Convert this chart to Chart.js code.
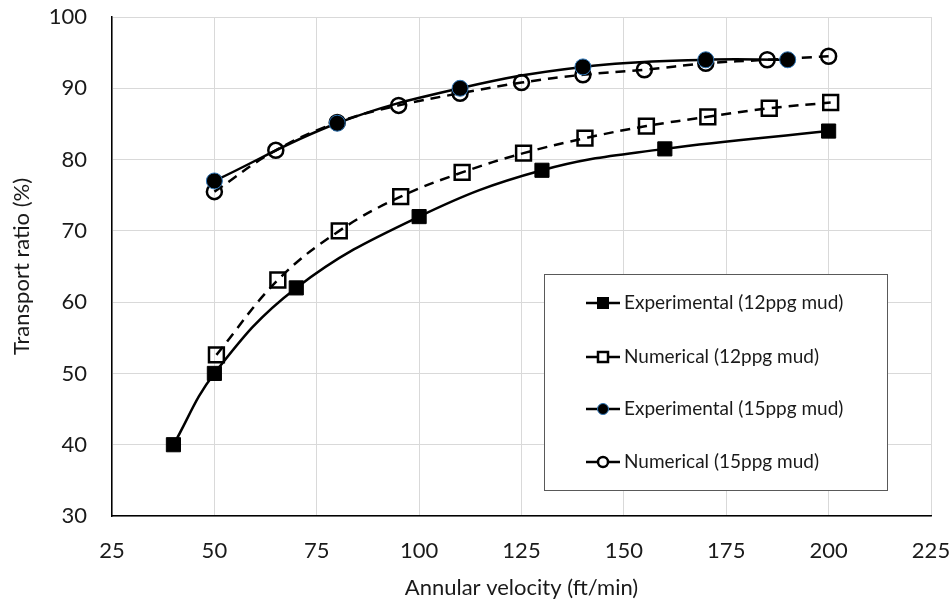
<!DOCTYPE html>
<html>
<head>
<meta charset="utf-8">
<script src="https://cdn.jsdelivr.net/npm/chart.js"></script>
<style>
  body { margin: 0; background: #fff; }
  #wrap { width: 952px; height: 605px; }
</style>
</head>
<body>
<div id="wrap"><canvas id="chart" width="952" height="605"></canvas></div>
<script>
// values
const seriesNames = [
  "Experimental (12ppg mud)",
  "Numerical (12ppg mud)",
  "Experimental (15ppg mud)",
  "Numerical (15ppg mud)"
];
const exp12X = [40, 50, 70, 100, 130, 160, 200];
const exp12Y = [40, 50, 62, 72, 78.5, 81.5, 84];
const num12X = [50.5, 65.5, 80.5, 95.5, 110.5, 125.5, 140.5, 155.5, 170.5, 185.5, 200.5];
const num12Y = [52.6, 63.1, 70.0, 74.8, 78.2, 80.9, 83.0, 84.7, 86.0, 87.2, 88.0];
const exp15X = [50, 80, 110, 140, 170, 190];
const exp15Y = [77, 85.1, 90, 93, 94, 94];
const num15X = [50, 65, 80, 95, 110, 125, 140, 155, 170, 185, 200];
const num15Y = [75.5, 81.3, 85.2, 87.6, 89.3, 90.8, 91.9, 92.6, 93.5, 94.0, 94.5];

const xMin = 25, xMax = 225, xStep = 25;
const yMin = 30, yMax = 100, yStep = 10;

const FONT = "Lato, 'Open Sans', sans-serif";
const TEXT = "#1a1a1a";

function pts(xs, ys) {
  return xs.map((x, i) => ({ x: x, y: ys[i] }));
}

const datasets = [
  {
    label: seriesNames[0],
    data: pts(exp12X, exp12Y),
    borderColor: "#000",
    borderWidth: 2.5,
    pointStyle: "rect",
    pointRadius: 10,
    pointBackgroundColor: "#000",
    pointBorderColor: "#000",
    pointBorderWidth: 1,
    order: 4
  },
  {
    label: seriesNames[1],
    data: pts(num12X, num12Y),
    borderColor: "#000",
    borderWidth: 2.5,
    borderDash: [10, 7],
    pointStyle: "rect",
    pointRadius: 10.5,
    pointBackgroundColor: "rgba(0,0,0,0)",
    pointBorderColor: "#000",
    pointBorderWidth: 2.5,
    order: 3
  },
  {
    label: seriesNames[2],
    data: pts(exp15X, exp15Y),
    borderColor: "#000",
    borderWidth: 2.5,
    pointStyle: "circle",
    pointRadius: 8,
    pointBackgroundColor: "#000",
    pointBorderColor: "#2E75B6",
    pointBorderWidth: 1,
    order: 1
  },
  {
    label: seriesNames[3],
    data: pts(num15X, num15Y),
    borderColor: "#000",
    borderWidth: 2.5,
    borderDash: [10, 7],
    pointStyle: "circle",
    pointRadius: 7.5,
    pointBackgroundColor: "rgba(0,0,0,0)",
    pointBorderColor: "#000",
    pointBorderWidth: 2.5,
    order: 2
  }
];
datasets.forEach(d => {
  d.showLine = true;
  d.fill = false;
  d.tension = 0.4;
  d.pointHoverRadius = d.pointRadius;
});

// boxed legend inside the plot, Excel style
const boxLegend = {
  id: "boxLegend",
  afterDraw(chart) {
    const ctx = chart.ctx;
    const bx = 544, by = 274, bw = 343, bh = 216;
    ctx.save();
    ctx.fillStyle = "#fff";
    ctx.fillRect(bx, by, bw, bh);
    ctx.strokeStyle = "#595959";
    ctx.lineWidth = 1;
    ctx.strokeRect(bx + 0.5, by + 0.5, bw, bh);

    const rowY = [303, 357, 409, 462];
    chart.data.datasets.forEach((ds, i) => {
      const y = rowY[i];
      ctx.setLineDash([]);
      ctx.strokeStyle = "#000";
      ctx.lineWidth = 2.5;
      ctx.beginPath();
      ctx.moveTo(586, y);
      ctx.lineTo(620, y);
      ctx.stroke();

      const cx = 603;
      ctx.lineWidth = ds.pointBorderWidth;
      ctx.strokeStyle = ds.pointBorderColor;
      const filled = ds.pointBackgroundColor === "#000";
      ctx.fillStyle = filled ? "#000" : "#fff";
      if (ds.pointStyle === "rect") {
        const s = filled ? 5.5 : 5;
        ctx.fillRect(cx - s, y - s, 2 * s, 2 * s);
        ctx.strokeRect(cx - s, y - s, 2 * s, 2 * s);
      } else {
        const r = filled ? 5.5 : 5;
        ctx.beginPath();
        ctx.arc(cx, y, r, 0, Math.PI * 2);
        ctx.fill();
        ctx.stroke();
      }

      ctx.fillStyle = TEXT;
      ctx.font = "19px " + FONT;
      ctx.textBaseline = "middle";
      ctx.textAlign = "left";
      ctx.fillText(ds.label, 624, y);
    });
    ctx.restore();
  }
};

const ctx = document.getElementById("chart").getContext("2d");
const chart = new Chart(ctx, {
  type: "scatter",
  data: { datasets: datasets },
  options: {
    responsive: false,
    animation: false,
    layout: { padding: { top: 17, right: 0, bottom: 0, left: 0 } },
    plugins: {
      legend: { display: false },
      tooltip: { enabled: false }
    },
    scales: {
      x: {
        type: "linear",
        min: xMin,
        max: xMax,
        afterFit(scale) {
          scale.height = 89;
          scale.paddingLeft = 0;
          scale.paddingRight = 21;
        },
        ticks: {
          stepSize: xStep,
          color: TEXT,
          font: { family: FONT, size: 22 },
          padding: 22,
          maxRotation: 0
        },
        grid: { color: "#d9d9d9", lineWidth: 1, drawTicks: false },
        border: { color: "#000", width: 1.5 },
        title: {
          display: true,
          text: "Annular velocity (ft/min)",
          color: TEXT,
          font: { family: FONT, size: 22 },
          padding: { top: 0, bottom: 4 }
        }
      },
      y: {
        type: "linear",
        min: yMin,
        max: yMax,
        afterFit(scale) {
          scale.width = 112;
          scale.paddingTop = 0;
          scale.paddingBottom = 0;
        },
        ticks: {
          stepSize: yStep,
          color: TEXT,
          font: { family: FONT, size: 22 },
          padding: 25
        },
        grid: { color: "#d9d9d9", lineWidth: 1, drawTicks: false },
        border: { color: "#000", width: 1.5 },
        title: {
          display: true,
          text: "Transport ratio (%)",
          color: TEXT,
          font: { family: FONT, size: 22 },
          padding: { top: 9, bottom: 0 }
        }
      }
    }
  },
  plugins: [boxLegend]
});
</script>
</body>
</html>
